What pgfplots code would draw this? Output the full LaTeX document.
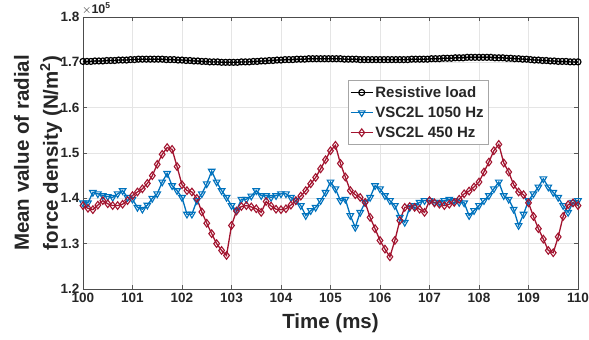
\documentclass[border=0pt]{standalone}
\usepackage{pgfplots}
\pgfplotsset{compat=1.18}
\usepackage{fontspec}
\setmainfont{Liberation Sans}
\usetikzlibrary{calc}
\definecolor{mblue}{rgb}{0,0.447,0.741}
\definecolor{mred}{rgb}{0.635,0.078,0.184}
\definecolor{mtext}{rgb}{0.15,0.15,0.15}
\begin{document}
\begin{tikzpicture}[x=1pt,y=1pt]
\begin{axis}[name=ax,
  scale only axis, width=495pt, height=272pt,
  xmin=100, xmax=110, ymin=1.2, ymax=1.8,
  xtick={100,101,...,110}, ytick={1.2,1.3,...,1.8},
  yticklabel style={/pgf/number format/.cd,fixed,fixed zerofill,precision=1},
  /pgf/number format/assume math mode=true,
  tick label style={font=\fontsize{13.5}{15}\selectfont\bfseries, text=mtext},
  xticklabel style={yshift=-1pt},
  tick align=inside, major tick length=4pt,
  tick style={gray!70!black, line width=0.4pt},
  axis line style={gray!60!black, line width=0.5pt},
  grid=major, major grid style={gray!20, line width=0.4pt},
  xlabel={Time (ms)},
  ylabel={Mean value of radial\\[5pt]force density (N/m$^\mathbf{2}$)},
  label style={font=\fontsize{20.5}{24}\selectfont\bfseries, text=mtext},
  xlabel style={at={(axis description cs:0.5,-0.125)}, anchor=center},
  ylabel style={at={(axis description cs:-0.091,0.5)}, anchor=center, align=center},
  legend style={at={(axis description cs:0.535,0.768)}, anchor=north west,
    font=\fontsize{15}{19}\selectfont\bfseries, draw=gray!70, line width=0.5pt, text=mtext,
    inner xsep=2pt, inner ysep=4pt, row sep=4pt},
  legend cell align=left,
  legend image code/.code={\draw[mark repeat=2,mark phase=2] plot coordinates {(0pt,0pt) (11pt,0pt) (22pt,0pt)};},
]
\addplot[black, line width=1.2pt, mark=o, mark size=3pt, mark options={line width=1.2pt}] coordinates {
(100.00,1.702)(100.08,1.702)(100.16,1.702)(100.24,1.703)(100.32,1.703)(100.40,1.703)(100.48,1.704)(100.56,1.704)(100.64,1.704)(100.72,1.705)
(100.80,1.705)(100.88,1.705)(100.96,1.706)(101.04,1.706)(101.12,1.707)(101.20,1.707)(101.28,1.707)(101.36,1.707)(101.44,1.707)(101.52,1.707)
(101.60,1.707)(101.68,1.706)(101.76,1.706)(101.84,1.706)(101.92,1.705)(102.00,1.705)(102.08,1.704)(102.16,1.704)(102.24,1.703)(102.32,1.703)
(102.40,1.702)(102.48,1.702)(102.56,1.701)(102.64,1.701)(102.72,1.701)(102.80,1.700)(102.88,1.700)(102.96,1.700)(103.04,1.700)(103.12,1.700)
(103.20,1.701)(103.28,1.701)(103.36,1.701)(103.44,1.702)(103.52,1.702)(103.60,1.703)(103.68,1.703)(103.76,1.704)(103.84,1.704)(103.92,1.705)
(104.00,1.705)(104.08,1.706)(104.16,1.706)(104.24,1.706)(104.32,1.707)(104.40,1.707)(104.48,1.707)(104.56,1.708)(104.64,1.708)(104.72,1.708)
(104.80,1.708)(104.88,1.708)(104.96,1.708)(105.04,1.708)(105.12,1.708)(105.20,1.708)(105.28,1.707)(105.36,1.707)(105.44,1.707)(105.52,1.707)
(105.60,1.706)(105.68,1.706)(105.76,1.706)(105.84,1.706)(105.92,1.706)(106.00,1.706)(106.08,1.706)(106.16,1.706)(106.24,1.706)(106.32,1.706)
(106.40,1.706)(106.48,1.706)(106.56,1.706)(106.64,1.707)(106.72,1.707)(106.80,1.707)(106.88,1.707)(106.96,1.707)(107.04,1.708)(107.12,1.708)
(107.20,1.708)(107.28,1.709)(107.36,1.709)(107.44,1.709)(107.52,1.710)(107.60,1.710)(107.68,1.710)(107.76,1.711)(107.84,1.711)(107.92,1.711)
(108.00,1.711)(108.08,1.711)(108.16,1.711)(108.24,1.711)(108.32,1.710)(108.40,1.710)(108.48,1.710)(108.56,1.709)(108.64,1.709)(108.72,1.708)
(108.80,1.708)(108.88,1.707)(108.96,1.707)(109.04,1.706)(109.12,1.705)(109.20,1.705)(109.28,1.704)(109.36,1.704)(109.44,1.703)(109.52,1.703)
(109.60,1.702)(109.68,1.702)(109.76,1.702)(109.84,1.701)(109.92,1.701)(110.00,1.701)};
\addlegendentry{Resistive load}
\addplot[mblue, line width=1.3pt, mark=triangle, mark size=3.8pt, mark options={rotate=180, line width=1.1pt}] coordinates {
(100.0,1.390)(100.1,1.390)(100.2,1.413)(100.3,1.410)(100.4,1.406)(100.5,1.404)(100.6,1.402)(100.7,1.410)(100.8,1.417)(100.9,1.402)
(101.0,1.398)(101.1,1.380)(101.2,1.376)(101.3,1.385)(101.4,1.400)(101.5,1.410)(101.6,1.436)(101.7,1.455)(101.8,1.428)(101.9,1.417)
(102.0,1.402)(102.1,1.365)(102.2,1.365)(102.3,1.395)(102.4,1.410)(102.5,1.432)(102.6,1.460)(102.7,1.436)(102.8,1.417)(102.9,1.402)
(103.0,1.384)(103.1,1.373)(103.2,1.398)(103.3,1.398)(103.4,1.405)(103.5,1.417)(103.6,1.406)(103.7,1.406)(103.8,1.402)(103.9,1.406)
(104.0,1.410)(104.1,1.410)(104.2,1.402)(104.3,1.395)(104.4,1.384)(104.5,1.362)(104.6,1.373)(104.7,1.380)(104.8,1.395)(104.9,1.413)
(105.0,1.436)(105.1,1.421)(105.2,1.395)(105.3,1.398)(105.4,1.362)(105.5,1.336)(105.6,1.369)(105.7,1.391)(105.8,1.402)(105.9,1.428)
(106.0,1.421)(106.1,1.406)(106.2,1.395)(106.3,1.384)(106.4,1.358)(106.5,1.347)(106.6,1.380)(106.7,1.384)(106.8,1.391)(106.9,1.395)
(107.0,1.395)(107.1,1.391)(107.2,1.391)(107.3,1.395)(107.4,1.398)(107.5,1.395)(107.6,1.391)(107.7,1.390)(107.8,1.362)(107.9,1.373)
(108.0,1.384)(108.1,1.395)(108.2,1.406)(108.3,1.421)(108.4,1.436)(108.5,1.406)(108.6,1.398)(108.7,1.376)(108.8,1.340)(108.9,1.365)
(109.0,1.395)(109.1,1.410)(109.2,1.425)(109.3,1.443)(109.4,1.425)(109.5,1.413)(109.6,1.402)(109.7,1.384)(109.8,1.369)(109.9,1.391)
(110.0,1.395)};
\addlegendentry{VSC2L 1050 Hz}
\addplot[mred, line width=1.3pt, mark=diamond, mark size=3.8pt, mark options={line width=1.1pt}] coordinates {
(100.0,1.384)(100.1,1.378)(100.2,1.375)(100.3,1.385)(100.4,1.395)(100.5,1.388)(100.6,1.384)(100.7,1.384)(100.8,1.387)(100.9,1.395)
(101.0,1.406)(101.1,1.414)(101.2,1.421)(101.3,1.433)(101.4,1.450)(101.5,1.475)(101.6,1.497)(101.7,1.512)(101.8,1.508)(101.9,1.470)
(102.0,1.430)(102.1,1.417)(102.2,1.414)(102.3,1.400)(102.4,1.370)(102.5,1.345)(102.6,1.322)(102.7,1.300)(102.8,1.285)(102.9,1.274)
(103.0,1.340)(103.1,1.372)(103.2,1.382)(103.3,1.384)(103.4,1.381)(103.5,1.377)(103.6,1.369)(103.7,1.393)(103.8,1.383)(103.9,1.376)
(104.0,1.375)(104.1,1.377)(104.2,1.385)(104.3,1.395)(104.4,1.405)(104.5,1.417)(104.6,1.432)(104.7,1.446)(104.8,1.465)(104.9,1.485)
(105.0,1.505)(105.1,1.517)(105.2,1.477)(105.3,1.447)(105.4,1.417)(105.5,1.408)(105.6,1.402)(105.7,1.391)(105.8,1.358)(105.9,1.333)
(106.0,1.307)(106.1,1.288)(106.2,1.271)(106.3,1.307)(106.4,1.351)(106.5,1.380)(106.6,1.382)(106.7,1.380)(106.8,1.376)(106.9,1.369)
(107.0,1.395)(107.1,1.390)(107.2,1.387)(107.3,1.384)(107.4,1.387)(107.5,1.391)(107.6,1.398)(107.7,1.410)(107.8,1.416)(107.9,1.425)
(108.0,1.436)(108.1,1.458)(108.2,1.480)(108.3,1.505)(108.4,1.519)(108.5,1.478)(108.6,1.458)(108.7,1.430)(108.8,1.414)(108.9,1.408)
(109.0,1.390)(109.1,1.360)(109.2,1.333)(109.3,1.310)(109.4,1.285)(109.5,1.280)(109.6,1.315)(109.7,1.360)(109.8,1.386)(109.9,1.390)
(110.0,1.384)};
\addlegendentry{VSC2L 450 Hz}
\end{axis}
\node[anchor=base west, inner sep=0pt, font=\fontsize{12.5}{14}\selectfont, text=mtext] at ($(ax.north west)+(-1pt,3pt)$) {$\times$\textbf{10}\raisebox{5pt}{\fontsize{8.5}{10}\selectfont\textbf{5}}};
\pgfresetboundingbox
\path[use as bounding box] ($(ax.south west)+(-83pt,-51pt)$) rectangle ($(ax.north east)+(11pt,17pt)$);
\end{tikzpicture}
\end{document}
